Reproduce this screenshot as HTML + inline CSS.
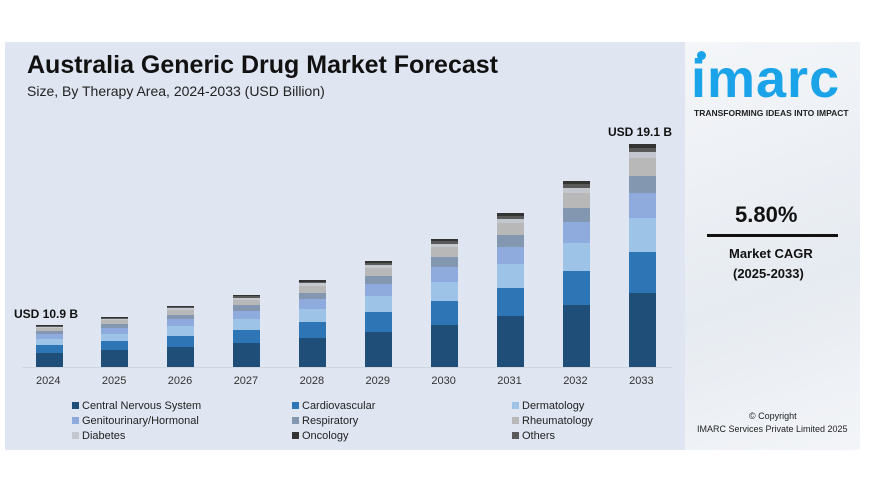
<!DOCTYPE html>
<html><head><style>
body{margin:0;width:870px;height:489px;background:#fff;position:relative;overflow:hidden;font-family:"Liberation Sans",sans-serif}
.main{position:absolute;left:5px;top:42px;width:680px;height:408px;background:#dfe6f1}
.right{position:absolute;left:685px;top:42px;width:175px;height:408px;background:linear-gradient(160deg,#f4f6f9,#e6ebf1 60%,#f3f5f8)}
.t{position:absolute;white-space:nowrap;color:#111}
.bar{position:absolute;width:27px}
.bar div{width:100%}
.lg{position:absolute;font-size:11px;color:#222;white-space:nowrap}
.lg i{display:inline-block;width:7px;height:7px;margin-right:3px}
</style></head><body>
<div class="main"></div>
<div class="right"></div>
<div class="t" style="left:27px;top:51px;font-size:25px;font-weight:bold">Australia Generic Drug Market Forecast</div>
<div class="t" style="left:27px;top:83px;font-size:14px;color:#222">Size, By Therapy Area, 2024-2033 (USD Billion)</div>
<div class="t" style="left:14px;top:307px;font-size:12px;font-weight:bold">USD 10.9 B</div>
<div class="t" style="left:608px;top:125px;font-size:12px;font-weight:bold">USD 19.1 B</div>
<div id="bars"></div>
<div style="position:absolute;left:22px;top:367px;width:650px;height:1px;background:#cfd6e0"></div>
<div class="lg" style="left:72px;top:400px"><i style="background:#1f4e79"></i>Central Nervous System</div>
<div class="lg" style="left:72px;top:415px"><i style="background:#8faadc"></i>Genitourinary/Hormonal</div>
<div class="lg" style="left:72px;top:430px"><i style="background:#c3c8cf"></i>Diabetes</div>
<div class="lg" style="left:292px;top:400px"><i style="background:#2e75b6"></i>Cardiovascular</div>
<div class="lg" style="left:292px;top:415px"><i style="background:#8497b0"></i>Respiratory</div>
<div class="lg" style="left:292px;top:430px"><i style="background:#333"></i>Oncology</div>
<div class="lg" style="left:512px;top:400px"><i style="background:#9dc3e6"></i>Dermatology</div>
<div class="lg" style="left:512px;top:415px"><i style="background:#b8b8b8"></i>Rheumatology</div>
<div class="lg" style="left:512px;top:430px"><i style="background:#595959"></i>Others</div>
<div style="position:absolute;left:697px;top:51px;width:9px;height:9px;border-radius:50%;background:#1aa3e8"></div>
<div class="t" style="left:691px;top:48px;font-size:54px;font-weight:bold;color:#1aa3e8;letter-spacing:1px">imarc</div>
<div class="t" style="left:694px;top:108px;font-size:8.5px;font-weight:bold;color:#222">TRANSFORMING IDEAS INTO IMPACT</div>
<div class="t" style="left:735px;top:202px;font-size:22px;font-weight:bold">5.80%</div>
<div style="position:absolute;left:707px;top:234px;width:131px;height:3px;background:#111"></div>
<div class="t" style="left:729px;top:246px;font-size:13px;font-weight:bold">Market CAGR</div>
<div class="t" style="left:733px;top:266px;font-size:13px;font-weight:bold">(2025-2033)</div>
<div class="t" style="left:749px;top:411px;font-size:9px;color:#222">© Copyright</div>
<div class="t" style="left:697px;top:424px;font-size:9px;color:#222">IMARC Services Private Limited 2025</div>
<script>
var H=[42,50,61,72,87,106,128,154,186,223];
var F=[[.332,'#1f4e79'],[.184,'#2e75b6'],[.152,'#9dc3e6'],[.112,'#8faadc'],[.076,'#8497b0'],[.081,'#b8b8b8'],[.027,'#c3c8cf'],[.018,'#595959'],[.018,'#333']];
var s='';
for(var i=0;i<10;i++){var cx=49+i*65.9,h=H[i];s+='<div class="bar" style="left:'+(cx-13.5)+'px;top:'+(367-h)+'px;height:'+h+'px;display:flex;flex-direction:column-reverse">';
F.forEach(function(f){s+='<div style="height:'+(f[0]*h)+'px;background:'+f[1]+'"></div>'});
s+='</div><div class="t" style="left:'+(cx-13)+'px;top:375px;font-size:11px;color:#333">'+(2024+i)+'</div>';}
document.getElementById('bars').innerHTML=s;
</script>
</body></html>
